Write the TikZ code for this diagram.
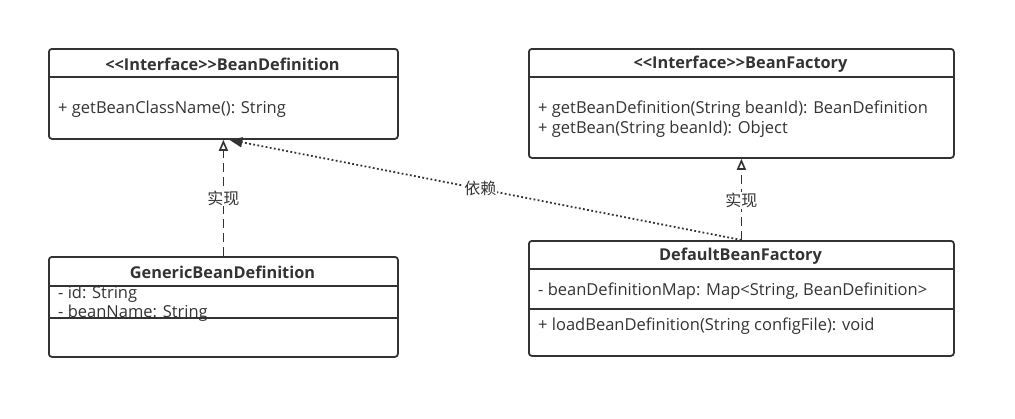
\documentclass[tikz,border=0pt]{standalone}
\usepackage{fontspec}
\setmainfont[Ligatures=ResetAll]{Open Sans}
\newfontfamily\cjkfont{Noto Sans CJK SC}
\usetikzlibrary{arrows.meta}
\definecolor{ink}{HTML}{333333}
\newcommand{\lt}{\textless\kern0pt}
\newcommand{\gt}{\textgreater\kern0pt}
\tikzset{
  umlbox/.style={draw=ink, line width=1.8pt, rounded corners=3pt, anchor=north west, inner sep=0pt},
  sep/.style={draw=ink, line width=1.8pt},
  title/.style={font=\fontsize{16.3}{18}\selectfont\bfseries, text=ink, inner sep=0pt},
  member/.style={font=\fontsize{16.5}{18}\selectfont, text=ink, anchor=west, inner sep=0pt},
  lbl/.style={font=\cjkfont\fontsize{16}{18}\selectfont, text=ink, fill=white, inner sep=1pt},
  realize/.style={draw=ink, line width=1.8pt, dash pattern=on 9pt off 5pt, -{Triangle[open, length=11pt, width=9pt, line width=1.6pt]}},
  depend/.style={draw=ink, line width=1.8pt, dash pattern=on 1.8pt off 2.4pt, -{Triangle[length=13pt, width=10pt]}},
}
\begin{document}
\begin{tikzpicture}[x=1pt, y=-1pt]
\useasboundingbox (0,0) rectangle (1015,418);
% BeanDefinition
\node[umlbox, minimum width=349pt, minimum height=90pt] (bd) at (48,48) {};
\draw[sep] (48,77) -- (397,77);
\node[title] (bdt) at (222.5,64.5) {\lt\lt Interface\gt\gt BeanDefinition};
\node[member] (bdm) at (58,109.5) {+ getBeanClassName(): String};
% BeanFactory
\node[umlbox, minimum width=425pt, minimum height=109pt] (bf) at (528,48) {};
\draw[sep] (528,77) -- (953,77);
\node[title] (bft) at (740.5,64.5) {\lt\lt Interface\gt\gt BeanFactory};
\node[member] (bfm1) at (538,109.5) {+ getBeanDefinition(String beanId): BeanDefinition};
\node[member] (bfm2) at (538,129.5) {+ getBean(String beanId): Object};
% GenericBeanDefinition
\node[umlbox, minimum width=349pt, minimum height=100pt] (gbd) at (48,256) {};
\draw[sep] (48,286) -- (397,286);
\draw[sep] (48,318) -- (397,318);
\node[title] (gbdt) at (222.5,272.5) {GenericBeanDefinition};
\node[member] (gbda1) at (58,294) {- id: String};
\node[member] (gbda2) at (58,313) {- beanName: String};
% DefaultBeanFactory
\node[umlbox, minimum width=425pt, minimum height=115pt] (dbf) at (528,240) {};
\draw[sep] (528,269) -- (953,269);
\draw[sep] (528,309) -- (953,309);
\node[title] (dbft) at (740.5,256.5) {DefaultBeanFactory};
\node[member] (dbfa) at (538,291.5) {- beanDefinitionMap: Map\lt String, BeanDefinition\gt};
\node[member] (dbfm) at (538,326.5) {+ loadBeanDefinition(String configFile): void};
% connectors
\coordinate (bdtip) at ([xshift=6pt]bd.south);
\draw[depend] (dbf.north) -- node[lbl, pos=0.51] {依赖} (bdtip);
\draw[realize] (gbd.north) -- node[lbl] {实现} (bd.south);
\draw[realize] (dbf.north) -- node[lbl, pos=0.49] {实现} (bf.south);
\end{tikzpicture}
\end{document}
